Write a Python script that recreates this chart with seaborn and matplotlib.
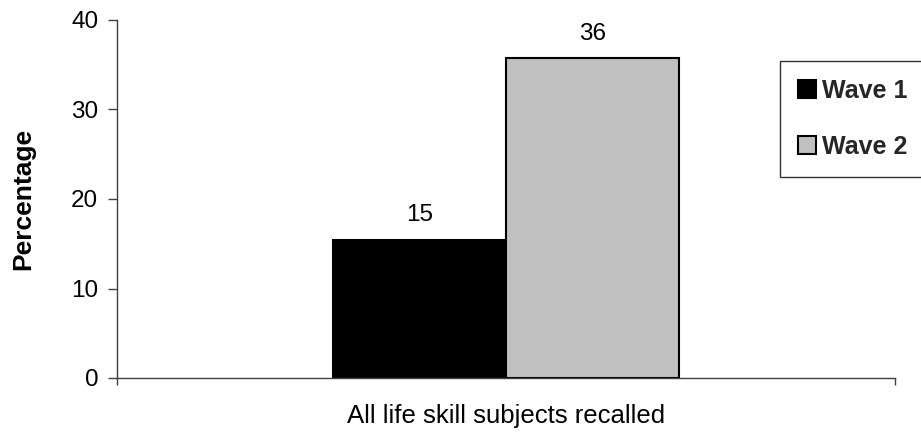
import matplotlib
matplotlib.use("Agg")
import matplotlib.pyplot as plt
import seaborn as sns
import pandas as pd
from matplotlib.patches import Patch

# Data
categories = ["All life skill subjects recalled"]
waves = ["Wave 1", "Wave 2"]
values = [15.4, 35.7]
colors = ["#000000", "#c0c0c0"]

df = pd.DataFrame({
    "category": [categories[0]] * len(waves),
    "wave": waves,
    "value": values,
})

sns.set_theme(style="white")
plt.rcParams["font.family"] = ["Liberation Sans", "DejaVu Sans"]

fig = plt.figure(figsize=(9.21, 4.33), dpi=100)
ax = fig.add_axes([117 / 921, 1 - 378 / 433, (895 - 117) / 921, (378 - 20) / 433])

sns.barplot(data=df, x="category", y="value", hue="wave", palette=colors,
            width=0.445, edgecolor="black", linewidth=1.5, ax=ax,
            legend=False, saturation=1)

for cont in ax.containers:
    ax.bar_label(cont, fmt="%.0f", padding=10, fontsize=17.5, color="black")

ax.set_xlim(-0.5, 0.5)
ax.set_ylim(0, 40)
ax.set_yticks([0, 10, 20, 30, 40])
ax.tick_params(axis="y", which="major", direction="out", length=6.5, width=1,
               color="#404040", labelsize=17.5, labelcolor="black", pad=7, left=True)
ax.set_xticks([0])
ax.set_xticklabels(categories)
ax.tick_params(axis="x", which="major", length=0, labelsize=18.5, labelcolor="black", pad=19)
ax.set_xticks([-0.5, 0.5], minor=True)
ax.tick_params(axis="x", which="minor", direction="out", length=5, width=1,
               color="#404040", bottom=True)
ax.set_xlabel("")
ax.set_ylabel("Percentage", fontsize=19, fontweight="bold", color="black", labelpad=26)

for s in ["top", "right"]:
    ax.spines[s].set_visible(False)
for s in ["left", "bottom"]:
    ax.spines[s].set_color("#404040")
    ax.spines[s].set_linewidth(1)

handles = [Patch(facecolor=colors[0], edgecolor="black", linewidth=1.5),
           Patch(facecolor=colors[1], edgecolor="black", linewidth=1.5)]
leg = fig.legend(handles, waves, loc="upper left",
                 bbox_to_anchor=(780 / 921, 1 - 61 / 433), borderaxespad=0,
                 prop={"size": 18, "weight": "bold"}, frameon=True, fancybox=False,
                 handlelength=0.72, handleheight=0.72, handletextpad=0.25,
                 labelspacing=1.3, borderpad=0.7)
leg.get_frame().set_edgecolor("black")
leg.get_frame().set_linewidth(1)

fig.savefig("out.png", dpi=100)
